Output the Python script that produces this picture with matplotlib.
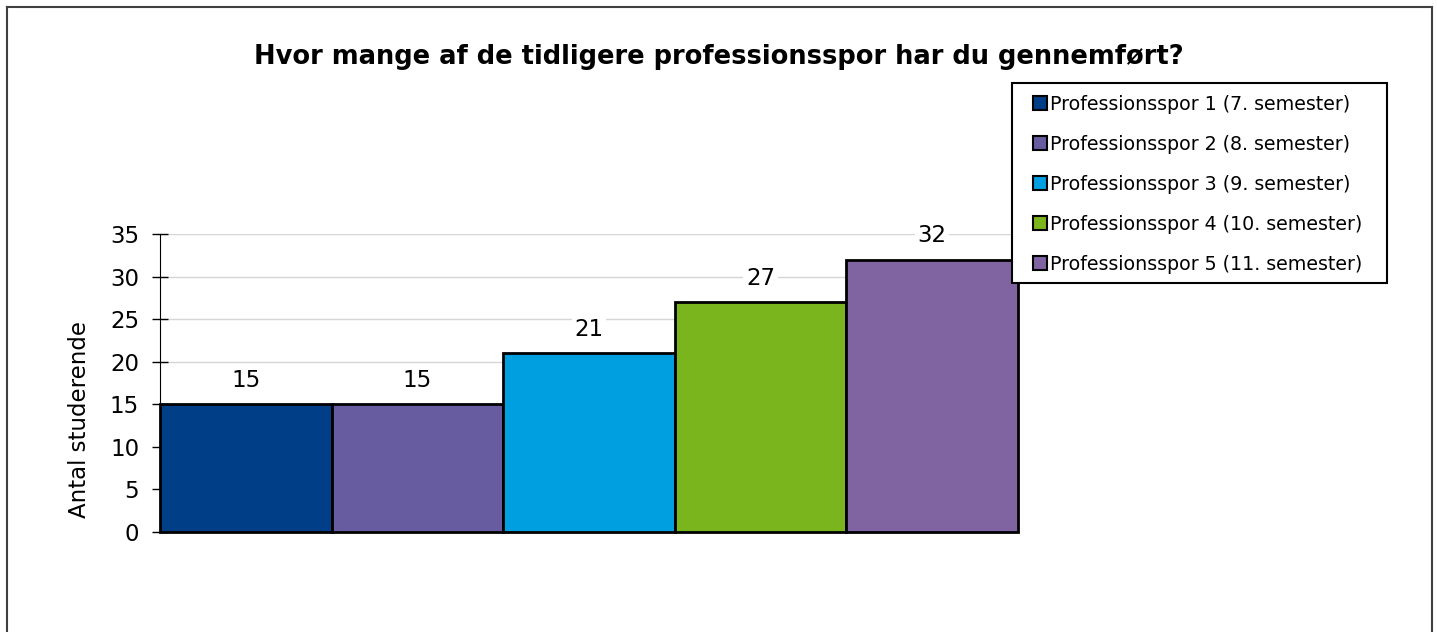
import matplotlib
matplotlib.use("Agg")
import matplotlib.pyplot as plt
from matplotlib.lines import Line2D
from matplotlib.patches import Patch, Rectangle

title = "Hvor mange af de tidligere professionsspor har du gennemført?"
categories = ["Professionsspor 1 (7. semester)", "Professionsspor 2 (8. semester)",
              "Professionsspor 3 (9. semester)", "Professionsspor 4 (10. semester)",
              "Professionsspor 5 (11. semester)"]
values = [15, 15, 21, 27, 32]
colors = ["#003F87", "#665C9F", "#009FE0", "#7AB51D", "#8064A2"]
yticks = [0, 5, 10, 15, 20, 25, 30, 35]
ylabel = "Antal studerende"

W, H = 1437, 632
plt.rcParams['font.family'] = ['DejaVu Sans']
fig = plt.figure(figsize=(W/100, H/100), dpi=100)
ax = fig.add_axes([160/W, 1-532/H, (1018-160)/W, (532-234)/H])

x = list(range(len(values)))
bars = ax.bar(x, values, width=1.0, color=colors, edgecolor="black", linewidth=2,
              zorder=3, clip_on=False)
ax.set_xlim(-0.5, len(values)-0.5)
ax.set_ylim(0, 35)
ax.set_yticks(yticks)
ax.set_xticks([])
ax.tick_params(axis='y', direction='inout', length=12, width=1, labelsize=16.5, pad=9)
ax.yaxis.grid(True, color="#D6D6D6", linewidth=1, zorder=0)
ax.set_axisbelow(True)
for s in ["top", "right"]:
    ax.spines[s].set_visible(False)
ax.spines["left"].set_color("black")
ax.spines["bottom"].set_color("#808080")
ax.set_ylabel(ylabel, fontsize=16.5)
ax.yaxis.set_label_coords(-0.081, 0.376)

for xi, v in zip(x, values):
    ax.annotate(str(v), (xi, v), xytext=(0, 24), textcoords="offset pixels",
                ha="center", va="center", fontsize=16.5, zorder=4,
                bbox=dict(facecolor="white", edgecolor="none", pad=2))

fig.text(719/W, 1-57/H, title, ha="center", va="center", fontsize=18.5, fontweight="bold")

# legend frame drawn manually
fig.add_artist(Rectangle((1012/W, 1-283/H), (1387-1012)/W, 200/H, transform=fig.transFigure,
                         facecolor="white", edgecolor="black", linewidth=1.5, zorder=9))
handles = [Patch(facecolor=c, edgecolor="black", linewidth=1.5) for c in colors]
leg = fig.legend(handles, categories, loc="upper left",
                 bbox_to_anchor=(1033/W, 1-95/H), borderaxespad=0, borderpad=0,
                 fontsize=13.7, frameon=False,
                 handlelength=0.75, handleheight=0.75, handletextpad=0.15,
                 labelspacing=1.1)
leg.set_zorder(10)

# outer border
bc = "#404040"
fig.add_artist(Line2D([7/W, 7/W], [0, 1-7/H], color=bc, lw=1.5, transform=fig.transFigure))
fig.add_artist(Line2D([1432/W, 1432/W], [0, 1-7/H], color=bc, lw=1.5, transform=fig.transFigure))
fig.add_artist(Line2D([7/W, 1432/W], [1-7/H, 1-7/H], color=bc, lw=1.5, transform=fig.transFigure))

fig.savefig("out.png", dpi=100)
